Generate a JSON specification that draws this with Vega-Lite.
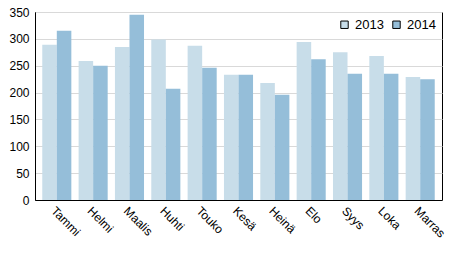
{
  "$schema": "https://vega.github.io/schema/vega-lite/v6.json",
  "autosize": {"type": "none"},
  "width": 407,
  "height": 188,
  "padding": {"left": 35, "top": 12, "right": 12, "bottom": 53},
  "config": {
    "font": "Liberation Sans",
    "view": {"stroke": "#000000", "strokeWidth": 1},
    "axis": {"labelFont": "Liberation Sans", "labelFontSize": 12, "labelColor": "#000000"}
  },
  "data": {
    "values": [
      {"month": "Tammi", "year": "2013", "value": 289},
      {"month": "Tammi", "year": "2014", "value": 315},
      {"month": "Helmi", "year": "2013", "value": 259},
      {"month": "Helmi", "year": "2014", "value": 250},
      {"month": "Maalis", "year": "2013", "value": 285},
      {"month": "Maalis", "year": "2014", "value": 345},
      {"month": "Huhti", "year": "2013", "value": 299},
      {"month": "Huhti", "year": "2014", "value": 207},
      {"month": "Touko", "year": "2013", "value": 287},
      {"month": "Touko", "year": "2014", "value": 246},
      {"month": "Kesä", "year": "2013", "value": 233},
      {"month": "Kesä", "year": "2014", "value": 233},
      {"month": "Heinä", "year": "2013", "value": 218},
      {"month": "Heinä", "year": "2014", "value": 196},
      {"month": "Elo", "year": "2013", "value": 294},
      {"month": "Elo", "year": "2014", "value": 262},
      {"month": "Syys", "year": "2013", "value": 275},
      {"month": "Syys", "year": "2014", "value": 235},
      {"month": "Loka", "year": "2013", "value": 268},
      {"month": "Loka", "year": "2014", "value": 235},
      {"month": "Marras", "year": "2013", "value": 229},
      {"month": "Marras", "year": "2014", "value": 225}
    ]
  },
  "mark": {"type": "bar"},
  "encoding": {
    "x": {
      "field": "month", "type": "nominal", "sort": null,
      "scale": {"paddingInner": 0.2, "paddingOuter": 0.2},
      "axis": {"title": null, "labelAngle": 45, "labelAlign": "left", "labelBaseline": "top", "ticks": false, "domain": true, "domainColor": "#000000", "labelPadding": 5}
    },
    "xOffset": {"field": "year", "type": "nominal", "scale": {"paddingInner": 0}},
    "y": {
      "field": "value", "type": "quantitative",
      "scale": {"domain": [0, 350], "nice": false},
      "axis": {"title": null, "values": [0, 50, 100, 150, 200, 250, 300, 350], "ticks": false, "domainColor": "#000000", "gridColor": "#d9d9d9", "labelPadding": 6}
    },
    "color": {
      "field": "year", "type": "nominal",
      "scale": {"domain": ["2013", "2014"], "range": ["#c8dde9", "#95bed9"]},
      "legend": {"title": null, "orient": "top-right", "direction": "horizontal", "symbolType": "square", "symbolStrokeColor": "#000000", "symbolStrokeWidth": 1, "symbolSize": 55, "symbolOpacity": 1, "labelFontSize": 13, "labelColor": "#000000", "offset": 6, "columnPadding": 6, "labelOffset": 4, "padding": 0}
    }
  }
}
